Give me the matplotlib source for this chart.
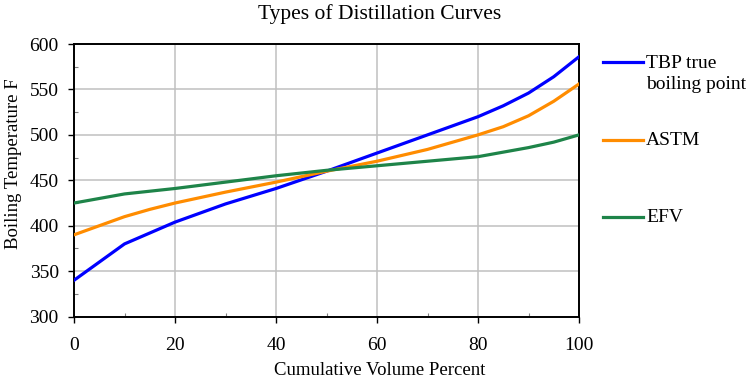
import numpy as np
import matplotlib
matplotlib.use("Agg")
import matplotlib.pyplot as plt
from matplotlib.lines import Line2D
from matplotlib.ticker import MultipleLocator

plt.rcParams["font.family"] = ["Liberation Serif", "DejaVu Serif"]

# data
volume = [0, 5, 10, 15, 20, 30, 40, 50, 60, 70, 80, 85, 90, 95, 100]
tbp = [340, 360, 380, 392, 404, 424, 441, 460, 480, 500, 520, 532, 546, 564, 586]
astm = [390, 400, 410, 418, 425, 437, 448, 460, 471, 484, 500, 509, 521, 537, 556]
efv = [425, 430, 435, 438, 441, 448, 455, 461, 466, 471, 476, 481, 486, 492, 500]

labels = ["TBP true\nboiling point", "ASTM", "EFV"]
_colors = ["#0000FF", "#FF8C00", "#1E8449"]

fig = plt.figure(figsize=(7.5, 3.81), dpi=100)
ax = fig.add_axes([0.0987, 0.169, 0.6733, 0.7155])

for _series, _c in zip([tbp, astm, efv], _colors):
    ax.plot(volume, _series, color=_c, linewidth=2.3, zorder=5)

ax.set_xlim(0, 100)
ax.set_ylim(300, 600)
ax.xaxis.set_major_locator(MultipleLocator(20))
ax.xaxis.set_minor_locator(MultipleLocator(10))
ax.yaxis.set_major_locator(MultipleLocator(50))
ax.yaxis.set_minor_locator(MultipleLocator(25))
ax.grid(which="major", color="#C0C0C0", linewidth=1.1, zorder=0)
ax.tick_params(which="major", direction="out", length=4, width=1, labelsize=14)
ax.tick_params(axis="x", which="major", pad=11)
ax.tick_params(axis="y", which="major", pad=7)
ax.tick_params(which="minor", direction="in", length=3, width=0.8, color="#808080")
for _s in ax.spines.values():
    _s.set_linewidth(1.4)

# title and x label sit centred on the figure, not the plot area
fig.text(380 / 750, 1 - 14 / 381, "Types of Distillation Curves", fontsize=15.5,
         ha="center", va="center")
ax.set_xlabel("Cumulative Volume Percent", fontsize=13.5)
ax.xaxis.set_label_coords((380 - 74) / 505, (316.7 - 371) / 272.7)
ax.xaxis.label.set_va("center")
ax.set_ylabel("Boiling Temperature F", fontsize=13.5)
ax.yaxis.set_label_coords((13 - 74) / 505, (316.7 - 164) / 272.7)
ax.yaxis.label.set_va("center")

# legend drawn by hand so the key lines sit on the first text line
_key_y = [1 - 62 / 381, 1 - 140 / 381, 1 - 216.7 / 381]
_line_h = 22 / 381
for _lab, _c, _y in zip(labels, _colors, _key_y):
    fig.add_artist(Line2D([603 / 750, 643 / 750], [_y, _y], color=_c, linewidth=2.3,
                          transform=fig.transFigure))
    for _i, _part in enumerate(_lab.split("\n")):
        fig.text(646 / 750, _y - _i * _line_h - 1 / 381, _part, fontsize=14,
                 va="center", ha="left")

plt.savefig("out.png", dpi=100)
